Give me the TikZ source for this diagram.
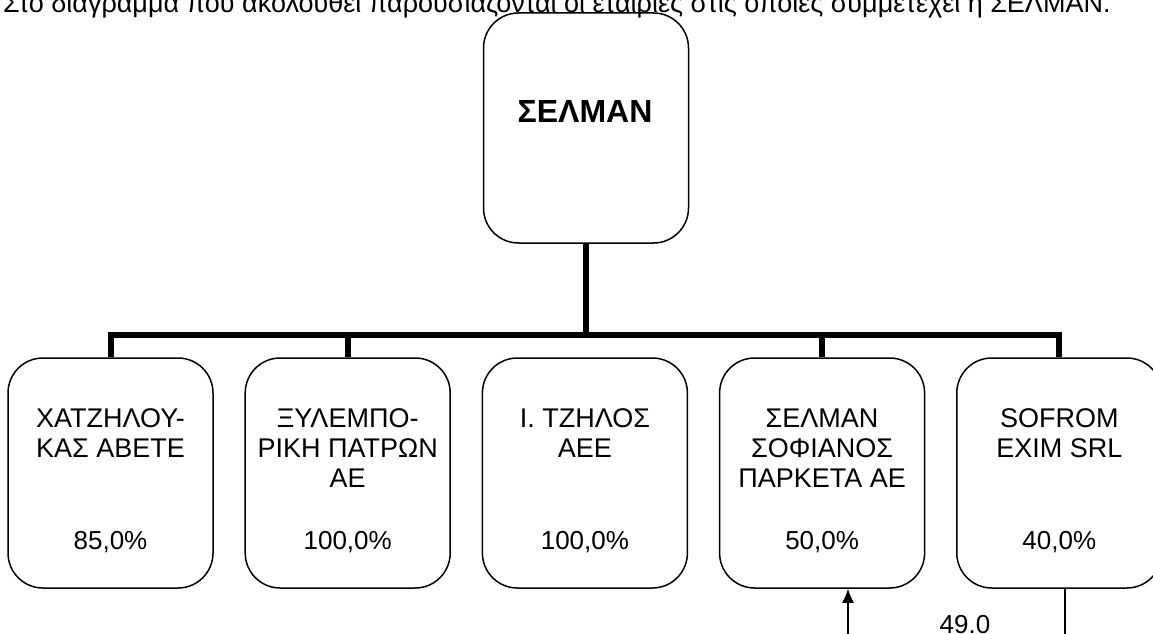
\documentclass[tikz,border=0pt]{standalone}
\usepackage{fontspec}
\setmainfont{Liberation Sans}
\usetikzlibrary{positioning,arrows.meta}

\begin{document}
\begin{tikzpicture}[x=1pt,y=1pt,>={Latex[length=14pt,width=12pt]},node distance=237.2pt,
    comp box/.style={draw,rounded corners=35pt,line width=1.5pt,minimum width=205pt,minimum height=230pt,inner sep=0pt},
    comp name/.style={font=\fontsize{27}{30}\selectfont,align=center,inner sep=0pt},
    share/.style={font=\fontsize{26}{30}\selectfont,inner sep=0pt},
    tree/.style={line width=6pt},
    flow/.style={line width=1.3pt}]

    \useasboundingbox (0,0) rectangle (1153,633);
    \clip (0,0) rectangle (1153,633);

    \node[anchor=base west,font=\fontsize{27}{30}\selectfont,inner sep=0pt] (intro) at (3,620.5)
        {Στο διάγραμμα που ακολουθεί παρουσιάζονται οι εταιρίες στις οποίες συμμετέχει η ΣΕΛΜΑΝ.};

    % parent company
    \node[comp box] (selman) at (586,505) {};
    \node[font=\bfseries\fontsize{32}{36}\selectfont] (selmantitle) at (585,522) {ΣΕΛΜΑΝ};

    % participations
    \node[comp box] (chatz) at (110.5,160) {};
    \node[comp box] (xylemp) [right of = chatz] {};
    \node[comp box] (tzilos) [right of = xylemp] {};
    \node[comp box] (selsof) [right of = tzilos] {};
    \node[comp box] (sofrom) [right of = selsof] {};

    \node[comp name, below=51pt of chatz.north] (chatzname) {ΧΑΤΖΗΛΟΥ-\\ΚΑΣ ΑΒΕΤΕ};
    \node[comp name, below=51pt of xylemp.north] (xylempname) {ΞΥΛΕΜΠΟ-\\ΡΙΚΗ ΠΑΤΡΩΝ\\ΑΕ};
    \node[comp name, below=51pt of tzilos.north] (tzilosname) {Ι. ΤΖΗΛΟΣ\\ΑΕΕ};
    \node[comp name, below=51pt of selsof.north] (selsofname) {ΣΕΛΜΑΝ\\ΣΟΦΙΑΝΟΣ\\ΠΑΡΚΕΤΑ ΑΕ};
    \node[comp name, below=51pt of sofrom.north] (sofromname) {SOFROM\\EXIM SRL};

    \node[share, above=36pt of chatz.south] (chatzpct) {85,0\%};
    \node[share, above=36pt of xylemp.south] (xylemppct) {100,0\%};
    \node[share, above=36pt of tzilos.south] (tzilospct) {100,0\%};
    \node[share, above=36pt of selsof.south] (selsofpct) {50,0\%};
    \node[share, above=36pt of sofrom.south] (sofrompct) {40,0\%};

    % tree
    \coordinate (bar) at (586,298);
    \draw[tree] (selman.south) -- (bar);
    \draw[tree] (chatz.north) |- (sofrom.north |- bar) -- (sofrom.north);
    \draw[tree] (xylemp.north) -- (xylemp.north |- bar);
    \draw[tree] (selsof.north) -- (selsof.north |- bar);

    % cross holding
    \coordinate (loopr) at (1065,-40);
    \coordinate (loopl) at (848,-40);
    \draw[flow,->] (sofrom.south -| loopr) -- (loopr) -- (loopl) -- (selsof.south -| loopl);
    \node[share, anchor=base] (cross) at (965,0) {49.0};
\end{tikzpicture}
\end{document}
